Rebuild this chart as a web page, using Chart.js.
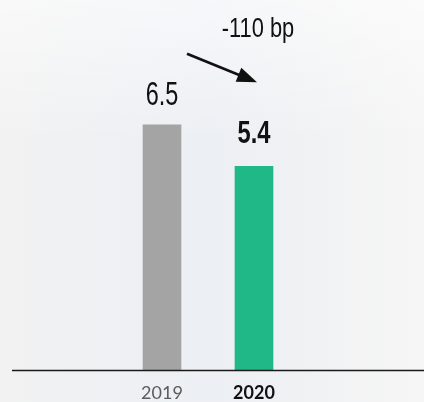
<!DOCTYPE html>
<html>
<head>
<meta charset="utf-8">
<script src="https://cdn.jsdelivr.net/npm/chart.js@4"></script>
<style>
html,body{margin:0;padding:0;}
body{width:424px;height:402px;overflow:hidden;
background:
 linear-gradient(180deg, rgba(255,255,255,0.55) 0%, rgba(255,255,255,0) 35%),
 linear-gradient(90deg, #f2f2f2 0%, #eef0f3 30%, #eceff4 50%, #f0f1f3 68%, #f6f6f6 100%);}
#wrap{position:absolute;left:0;top:0;width:424px;height:402px;}
</style>
</head>
<body>
<div id="wrap"><canvas id="c" width="424" height="402"></canvas></div>
<script>
const categories = ["2019", "2020"];
const values = [6.5, 5.4];
const valueLabels = ["6.5", "5.4"];
const barColors = ["#a4a4a4", "#20b887"];
const changeLabel = "-110 bp";

const fam = '"Liberation Sans", Arimo, sans-serif';

function narrowText(ctx, text, x, y, font, sx) {
  ctx.save();
  ctx.font = font;
  ctx.translate(x, y);
  ctx.scale(sx, 1);
  ctx.textAlign = 'center';
  ctx.textBaseline = 'alphabetic';
  ctx.fillText(text, 0, 0);
  ctx.restore();
}

const overlay = {
  id: 'overlay',
  afterDatasetsDraw(chart) {
    const ctx = chart.ctx;
    const y0 = chart.scales.y.getPixelForValue(0);
    ctx.save();
    // baseline
    ctx.strokeStyle = '#1a1a1a';
    ctx.lineWidth = 1.5;
    ctx.beginPath();
    ctx.moveTo(12, y0);
    ctx.lineTo(424, y0);
    ctx.stroke();
    // value labels
    const meta = chart.getDatasetMeta(0);
    ctx.fillStyle = '#111';
    narrowText(ctx, valueLabels[0], meta.data[0].x, meta.data[0].y - 20, '34px ' + fam, 0.69);
    narrowText(ctx, valueLabels[1], meta.data[1].x, meta.data[1].y - 23, 'bold 32px ' + fam, 0.74);
    // arrow
    const b0 = meta.data[0], b1 = meta.data[1];
    const sx = b0.x + 25, sy = b0.y - 71;
    const ex = b1.x + 3, ey = b1.y - 84;
    const ang = Math.atan2(ey - sy, ex - sx);
    ctx.strokeStyle = '#111';
    ctx.lineWidth = 2.7;
    ctx.beginPath();
    ctx.moveTo(sx, sy);
    ctx.lineTo(ex - 12 * Math.cos(ang), ey - 12 * Math.sin(ang));
    ctx.stroke();
    const hl = 20, hw = 7.5;
    ctx.beginPath();
    ctx.moveTo(ex, ey);
    ctx.lineTo(ex - hl * Math.cos(ang) + hw * Math.sin(ang), ey - hl * Math.sin(ang) - hw * Math.cos(ang));
    ctx.lineTo(ex - hl * Math.cos(ang) - hw * Math.sin(ang), ey - hl * Math.sin(ang) + hw * Math.cos(ang));
    ctx.closePath();
    ctx.fill();
    // change label
    narrowText(ctx, changeLabel, b1.x + 4, 37, '27px ' + fam, 0.81);
    ctx.restore();
  }
};

new Chart(document.getElementById('c'), {
  type: 'bar',
  data: {
    labels: categories,
    datasets: [{
      data: values,
      backgroundColor: barColors,
      barThickness: 38,
      borderWidth: 0
    }]
  },
  options: {
    responsive: false,
    animation: false,
    layout: { padding: { left: 116, right: 124, top: 0, bottom: -14 } },
    plugins: { legend: { display: false }, tooltip: { enabled: false } },
    scales: {
      x: {
        grid: { display: false, drawTicks: false },
        border: { display: false },
        ticks: {
          padding: 12,
          font: (c) => ({ family: 'Lato', size: 18, weight: c.index === 1 ? 'bold' : 'normal' }),
          color: (c) => c.index === 1 ? '#111111' : '#5c5c5c'
        }
      },
      y: {
        display: false,
        min: 0,
        max: 9.8
      }
    }
  },
  plugins: [overlay]
});
</script>
</body>
</html>
